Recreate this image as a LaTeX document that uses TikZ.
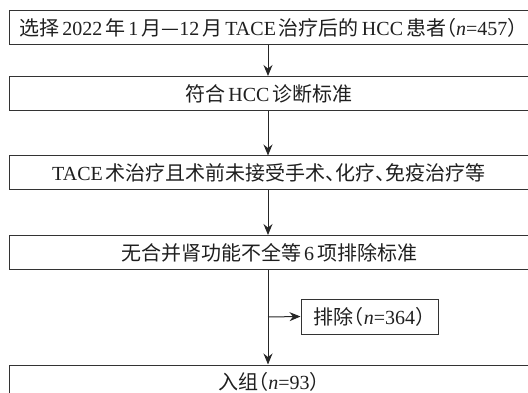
\documentclass[tikz,border=0pt]{standalone}
\usepackage{fontspec}
\setmainfont{Liberation Serif}
\newfontfamily\cjk{Noto Sans CJK SC}
\usetikzlibrary{arrows.meta}
\newcommand{\zh}[1]{{\cjk #1}}
\newcommand{\gp}{\hspace{0.15em}}
\newcommand{\lp}{\makebox[0.5em][r]{\cjk （}}
\newcommand{\rp}{\makebox[0.5em][l]{\cjk ）}}
\newcommand{\dn}{\makebox[0.5em][l]{\cjk 、}}
\begin{document}
\begin{tikzpicture}[x=1pt,y=-1pt,
  box/.style={draw=black!80, line width=1pt, minimum height=34pt, minimum width=520pt,
    inner sep=0pt, font=\fontsize{20}{22}\selectfont, text=black!88},
  smallbox/.style={draw=black!80, line width=1pt, minimum height=35pt, minimum width=137pt,
    inner sep=0pt, font=\fontsize{20}{22}\selectfont, text=black!88},
  arr/.style={draw=black!85, line width=1pt, -{Stealth[length=11pt,width=9pt]}}]
\useasboundingbox (0,0) rectangle (528,393);
\clip (0,0) rectangle (528,393);
\node[box, text width=499pt, inner xsep=10pt, align=left] (b1) at (269,27.5)
  {\mbox{\zh{选择}\gp 2022\gp\zh{年}\gp 1\gp\zh{月—}12\gp\zh{月}\gp TACE\gp\zh{治疗后的}\gp HCC\gp\zh{患者}\lp\textit{n}=457\rp}};
\node[box] (b2) at (269,93.5) {\zh{符合}\gp HCC\gp\zh{诊断标准}};
\node[box] (b3) at (269,173) {TACE\gp\zh{术治疗且术前未接受手术}\dn\zh{化疗}\dn\zh{免疫治疗等}};
\node[box] (b4) at (269,252.5) {\zh{无合并肾功能不全等}\gp 6\gp\zh{项排除标准}};
\node[smallbox] (ex) at (369.5,316.5) {\zh{排除}\lp\textit{n}=364\rp};
\node[box] (b5) at (269,382) {\zh{入组}\lp\textit{n}=93\rp};
\coordinate (sp) at (268,0);
\coordinate (br) at (268,317);
\draw[arr] (b1.south -| sp) -- (b2.north -| sp);
\draw[arr] (b2.south -| sp) -- (b3.north -| sp);
\draw[arr] (b3.south -| sp) -- (b4.north -| sp);
\draw[arr] (b4.south -| sp) -- (b5.north -| sp);
\draw[arr] (br) -- (ex.west);
\end{tikzpicture}
\end{document}
